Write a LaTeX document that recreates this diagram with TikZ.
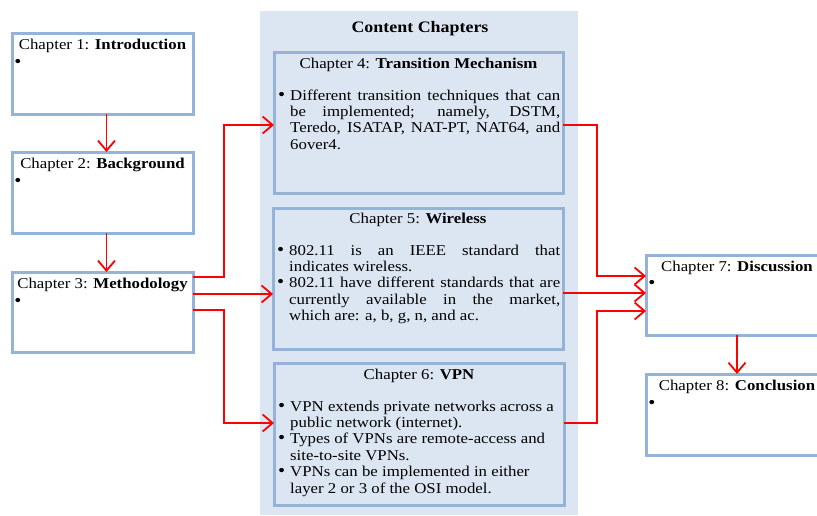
\documentclass[tikz,border=0pt]{standalone}
\usepackage{fontspec}
\setmainfont{Liberation Serif}[FakeStretch=1.12]
\usetikzlibrary{arrows.meta}
\definecolor{boxline}{RGB}{149,179,215}
\definecolor{panelfill}{RGB}{220,230,242}
\newcommand\chapfont{\fontsize{15}{16.4}\selectfont}
\newcommand\bmark{{\fontsize{18}{16}\selectfont\textbullet}}
% bullet item with hanging indent
\newcommand\bul{\par\hangindent=12pt\hangafter=1\noindent\hbox to 12pt{\bmark\hss}}

\begin{document}
\begin{tikzpicture}[x=1pt,y=-1pt, font=\chapfont,
  box/.style={draw=boxline, line width=3pt, rectangle, inner sep=0pt, outer sep=0pt, anchor=north west},
  lbox/.style={box, fill=white},
  ttl/.style={inner sep=0pt, anchor=base},
  dot/.style={inner sep=0pt, anchor=base},
  body/.style={inner sep=0pt, anchor=base west},
  arr/.style={draw=red, line width=1.8pt, -{Straight Barb[length=10pt,width=17pt]}}]
\useasboundingbox (0,0) rectangle (817,515);
\clip (0,0) rectangle (817,515);

% background panel for the content chapters
\node[fill=panelfill, inner sep=0pt, outer sep=0pt, minimum width=318, minimum height=504, anchor=north west] (panel) at (260,11) {};
\node[ttl] (ptitle) at (420,32) {\fontsize{16}{16}\selectfont\textbf{Content Chapters}};

% left column
\node[lbox, minimum width=181, minimum height=81] (b1) at (12,33) {};
\node[lbox, minimum width=181, minimum height=81] (b2) at (12,152) {};
\node[lbox, minimum width=181, minimum height=80] (b3) at (12,272) {};
\node[ttl] (t1) at ([yshift=-16pt]b1.north) {Chapter 1: \textbf{Introduction}};
\node[ttl] (t2) at ([yshift=-16pt]b2.north) {Chapter 2: \textbf{Background}};
\node[ttl] (t3) at ([yshift=-16pt]b3.north) {Chapter 3: \textbf{Methodology}};
\node[dot] (d1) at ([xshift=6pt,yshift=-34pt]b1.north west) {\bmark};
\node[dot] (d2) at ([xshift=6pt,yshift=-34pt]b2.north west) {\bmark};
\node[dot] (d3) at ([xshift=6pt,yshift=-34pt]b3.north west) {\bmark};

% content chapters
\node[box, minimum width=289, minimum height=141] (b4) at (274,52) {};
\node[box, minimum width=290, minimum height=141] (b5) at (273,208) {};
\node[box, minimum width=290, minimum height=142] (b6) at (274,363) {};
\node[ttl] (t4) at ([yshift=-16pt]b4.north) {Chapter 4: \textbf{Transition Mechanism}};
\node[ttl] (t5) at ([yshift=-15pt]b5.north) {Chapter 5: \textbf{Wireless}};
\node[ttl] (t6) at ([yshift=-16pt]b6.north) {Chapter 6: \textbf{VPN}};
\node[body] (x4) at ([xshift=4pt,yshift=-48pt]b4.north west) {\parbox[t]{282pt}{%
  \bul Different transition techniques that can\linebreak be implemented; namely, DSTM,\linebreak
  Teredo, ISATAP, NAT-PT, NAT64, and\linebreak 6over4.}};
\node[body] (x5) at ([xshift=4pt,yshift=-47pt]b5.north west) {\parbox[t]{283pt}{%
  \bul 802.11 is an IEEE standard that\linebreak indicates wireless.
  \bul 802.11 have different standards that are\linebreak currently available in the market,\linebreak
  which are: a, b, g, n, and ac.}};
\node[body] (x6) at ([xshift=4pt,yshift=-48pt]b6.north west) {\parbox[t]{282pt}{\raggedright
  \bul VPN extends private networks across a\hfil\break public network (internet).
  \bul Types of VPNs are remote-access and\hfil\break site-to-site VPNs.
  \bul VPNs can be implemented in either\hfil\break layer 2 or 3 of the OSI model.}};

% right column
\node[lbox, minimum width=182, minimum height=80] (b7) at (646,255) {};
\node[lbox, minimum width=182, minimum height=81] (b8) at (646,374) {};
\node[ttl] (t7) at ([yshift=-16pt]b7.north) {Chapter 7: \textbf{Discussion}};
\node[ttl] (t8) at ([yshift=-16pt]b8.north) {Chapter 8: \textbf{Conclusion}};
\node[dot] (d7) at ([xshift=6pt,yshift=-33pt]b7.north west) {\bmark};
\node[dot] (d8) at ([xshift=6pt,yshift=-34pt]b8.north west) {\bmark};

% connector end points
\coordinate (o3a) at ([yshift=-5pt]b3.north east);
\coordinate (o3b) at ([yshift=-22pt]b3.north east);
\coordinate (o3c) at ([yshift=-38pt]b3.north east);
\coordinate (i4) at ([yshift=-73pt]b4.north west);
\coordinate (i6) at ([yshift=-60pt]b6.north west);
\coordinate (o4) at ([yshift=-73pt]b4.north east);
\coordinate (o5) at ([yshift=-85pt]b5.north east);
\coordinate (o6) at ([yshift=-60pt]b6.north east);
\coordinate (i7a) at ([yshift=-21pt]b7.north west);
\coordinate (i7c) at ([yshift=-56pt]b7.north west);

% connectors
\draw[arr] ([xshift=4pt]b1.south) -- ([xshift=4pt]b2.north);
\draw[arr] ([xshift=4pt]b2.south) -- ([xshift=4pt]b3.north);
\draw[arr] (o3a) -- ++(31,0) |- (i4);
\draw[arr] (o3b) -- (o3b -| b5.west);
\draw[arr] (o3c) -- ++(31,0) |- (i6);
\draw[arr] (o4) -- ++(34,0) |- (i7a);
\draw[arr] (o5) -- (o5 -| b7.west);
\draw[arr] (o6) -- ++(33,0) |- (i7c);
\draw[arr] (b7.south) -- (b8.north);
\end{tikzpicture}
\end{document}
